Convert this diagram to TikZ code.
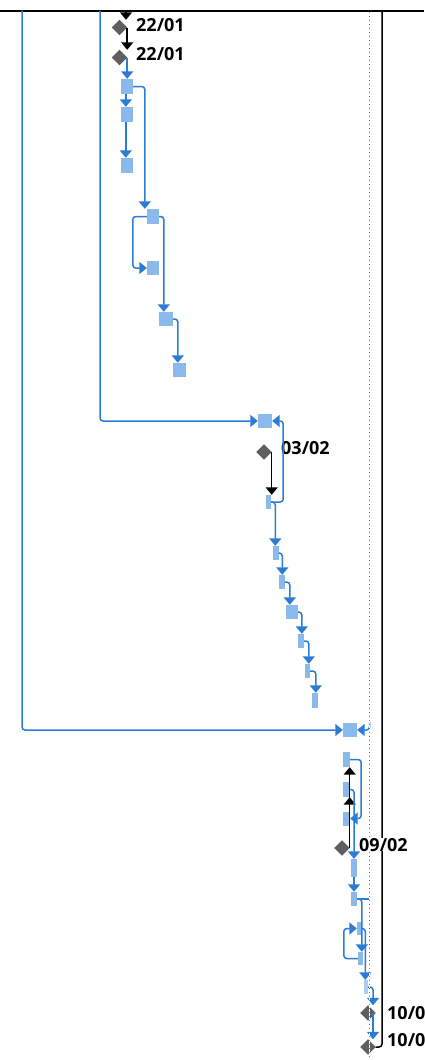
\documentclass[tikz,border=0pt]{standalone}
\usepackage{fontspec}
\setmainfont{Open Sans}
\usetikzlibrary{shapes.geometric,arrows.meta,calc}
\definecolor{lnk}{RGB}{44,124,214}
\definecolor{tsk}{RGB}{138,185,236}
\definecolor{tskpale}{RGB}{172,205,240}
\definecolor{msc}{RGB}{95,95,95}
\definecolor{dotc}{RGB}{130,130,130}
\begin{document}
\begin{tikzpicture}[x=1pt,y=-1pt,
  conn/.style={draw=lnk,line width=1.5pt,rounded corners=3pt,-{Triangle[width=12pt,length=7.5pt]}},
  blk/.style={draw=black,line width=1.5pt,-{Triangle[width=12pt,length=7.5pt]}},
  task/.style={fill=tsk,draw=none,inner sep=0pt},
  mstone/.style={diamond,fill=msc,draw=msc!80!black,line width=0.4pt,inner sep=0pt,minimum width=15pt,minimum height=15pt},
  lbl/.style={font=\bfseries\fontsize{18}{20}\selectfont,inner sep=0pt,anchor=base west}]
\fill[white] (0,0) rectangle (424,1060);
\useasboundingbox (0,0) rectangle (424,1060);
\draw[black,line width=2pt] (0,10.5) -- (424,10.5);
\coordinate (topA) at (22,10.5);
\coordinate (topB) at (100,10.5);
\coordinate (topC) at (382,10.5);
\coordinate (topD) at (126,10.5);
\coordinate (today) at (369.5,11.6);
\coordinate (todayEnd) at (369.5,1060);
\coordinate (stubE) at (369.5,899);
\coordinate (stub9) at (369.5,722);
% group 1
\node[mstone] (m1) at (119.5,27.5) {};
\node[mstone] (m2) at (119.5,57.5) {};
\node[task,minimum width=12pt,minimum height=15pt] (t1) at (127,86.5) {};
\node[task,minimum width=12pt,minimum height=15pt] (t2) at (127,114.5) {};
\node[task,minimum width=12pt,minimum height=15pt] (t3) at (127,165.5) {};
\node[task,minimum width=12pt,minimum height=15pt] (t4) at (153,216.5) {};
\node[task,minimum width=12pt,minimum height=14pt] (t5) at (153,268) {};
\node[task,minimum width=14pt,minimum height=14pt] (t6) at (166,319) {};
\node[task,minimum width=13pt,minimum height=14pt] (t7) at (179.5,370) {};
% group 2
\node[task,minimum width=14pt,minimum height=14pt] (t8) at (265,421) {};
\node[mstone] (m3) at (264,452) {};
\node[task,minimum width=5pt,minimum height=14pt] (b1) at (268.5,502) {};
\node[task,minimum width=6pt,minimum height=14pt] (b2) at (275.5,553) {};
\node[task,minimum width=6pt,minimum height=14pt] (b3) at (281.5,582) {};
\node[task,minimum width=12pt,minimum height=14pt] (b4) at (292,612) {};
\node[task,minimum width=6pt,minimum height=14pt] (b5) at (301,641) {};
\node[task,minimum width=5pt,minimum height=14pt] (b6) at (307.5,671) {};
\node[task,minimum width=6pt,minimum height=15pt] (b7) at (315,700.5) {};
% group 3
\node[task,minimum width=14pt,minimum height=14pt] (t9) at (350,730) {};
\node[task,minimum width=7pt,minimum height=15pt] (bA) at (346.5,759.5) {};
\node[task,minimum width=7pt,minimum height=15pt] (bB) at (346.5,789.5) {};
\node[task,minimum width=7pt,minimum height=14pt] (bC) at (346.5,818.5) {};
\node[mstone] (m4) at (342,848) {};
\node[task,minimum width=6pt,minimum height=18pt] (bD) at (354,868) {};
\node[task,minimum width=6pt,minimum height=14pt] (bE) at (354,899) {};
\node[task,minimum width=5pt,minimum height=13pt] (bF) at (359.5,928.5) {};
\node[task,minimum width=5pt,minimum height=13pt] (bG) at (360.5,958.5) {};
\node[task,fill=tskpale,minimum width=4pt,minimum height=14pt] (bH) at (366,987) {};
\node[mstone] (m5) at (368,1013) {};
\node[mstone] (m6) at (368,1047) {};
% labels (below connectors)
\node[lbl] (l1) at (136,31) {22/01};
\node[lbl] (l2) at (136,60) {22/01};
\node[lbl] (l3) at (281,454) {03/02};
\node[lbl] (l5) at (387,1019) {10/0};
\node[lbl] (l6) at (387,1046) {10/0};
% long lines
\draw[conn] (topA) |- (t9.west);
\draw[conn] (topB) |- (t8.west);
\draw[black,line width=1.5pt,rounded corners=3pt] (topC) |- (m6.east);
% group 1 connectors
\draw[blk] (topD) -- (m1.north -| topD);
\draw[blk] (m1.east) -- (m1.east |- m2.north);
\draw[conn] (m2.east) -- (m2.east |- t1.north);
\draw[conn] ($(t1.south west)+(5,0)$) -- ($(t2.north west)+(5,0)$);
\draw[conn] ($(t2.south west)+(5,0)$) -- ($(t3.north west)+(5,0)$);
\draw[conn] (t1.east) -| ($(t4.north west)+(-2,0)$);
\draw[conn] (t4.west) -- ++(-14,0) |- (t5.west);
\draw[conn] (t4.east) -| ($(t6.north west)+(5,0)$);
\draw[conn] (t6.east) -| ($(t7.north west)+(5,0)$);
% group 2 connectors
\draw[blk] (m3.east) -- (m3.east |- b1.north);
\draw[conn] (b1.east) -- ++(12,0) |- (t8.east);
\draw[conn] (b1.east) -| ($(b2.north west)+(3,0)$);
\draw[conn] (b2.east) -| ($(b3.north west)+(4,0)$);
\draw[conn] (b3.east) -| ($(b4.north west)+(4,0)$);
\draw[conn] (b4.east) -| ($(b5.north west)+(4,0)$);
\draw[conn] (b5.east) -| ($(b6.north west)+(4,0)$);
\draw[conn] (b6.east) -| ($(b7.north west)+(4,0)$);
% group 3 connectors
\draw[blk] (m4.east) -- (m4.east |- bB.south);
\draw[blk] (m4.east) -- (m4.east |- bA.south);
\draw[conn] (bA.east) -- ++(11,0) |- (bC.east);
\draw[conn] (bB.east) -| (bD.north);
\draw[conn] (bD.south) -- (bE.north);
\draw[draw=lnk,line width=1.5pt] (bE.east) -- (stubE);
\draw[conn] (stub9) |- (t9.east);
\draw[conn] (bE.east) -| ($(bG.north west)+(4,0)$);
\draw[conn] (bG.west) -- ++(-14,0) |- (bF.west);
\draw[conn] (bF.east) -| ($(bH.north west)+(1.5,0)$);
\draw[conn] (bH.east) -| ($(m5.north)+(5,0)$);
\draw[conn] ($(m5.center)+(5,0)$) -- ($(m6.north)+(5,0)$);
% today line
\draw[white,line width=1.6pt] (today) -- (todayEnd);
\draw[dotc,line width=1.3pt,dash pattern=on 1.3pt off 2.7pt] (today) -- (todayEnd);
\node[lbl,fill=white] (l4) at (359,851) {09/02};
\end{tikzpicture}
\end{document}
